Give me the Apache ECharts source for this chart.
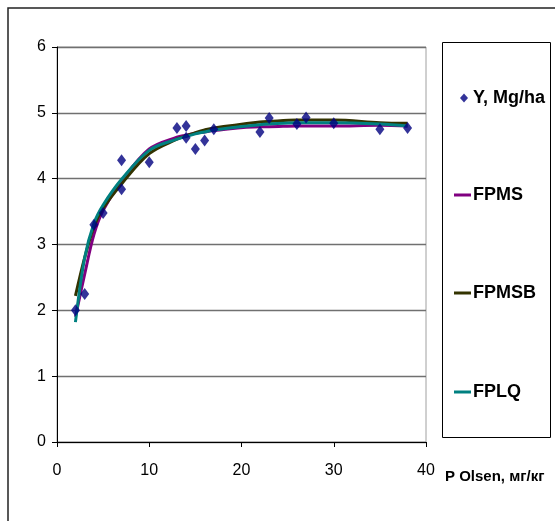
<!DOCTYPE html>
<html>
<head>
<meta charset="utf-8">
<script src="https://cdn.jsdelivr.net/npm/echarts@6/dist/echarts.min.js"></script>
<style>html,body{margin:0;padding:0;background:#fff}#c{width:555px;height:521px}</style>
</head>
<body>
<div id="c"></div>
<script>
// Observed data
var obsX = [2, 3, 4, 5, 7, 7, 10, 13, 14, 14, 15, 16, 17, 22, 23, 26, 27, 30, 35, 38];
var obsY = [2.0, 2.25, 3.30, 3.48, 4.28, 3.84, 4.25, 4.77, 4.80, 4.62, 4.45, 4.58, 4.75, 4.71, 4.92, 4.83, 4.93, 4.84, 4.75, 4.77];
// Model curves
var curveX = [2, 3, 4, 5, 7, 10, 13, 14, 15, 16, 17, 22, 23, 26, 27, 30, 35, 38];
var fpms  = [1.90, 2.55, 3.15, 3.52, 3.96, 4.45, 4.63, 4.66, 4.69, 4.71, 4.73, 4.79, 4.79, 4.80, 4.80, 4.80, 4.81, 4.80];
var fpmsb = [2.22, 2.80, 3.27, 3.55, 3.92, 4.38, 4.60, 4.65, 4.70, 4.74, 4.77, 4.86, 4.87, 4.89, 4.89, 4.89, 4.85, 4.84];
var fplq  = [1.82, 2.80, 3.32, 3.60, 3.99, 4.43, 4.60, 4.64, 4.68, 4.71, 4.74, 4.82, 4.83, 4.85, 4.85, 4.85, 4.83, 4.80];
var seriesNames = ['Y, Mg/ha', 'FPMS', 'FPMSB', 'FPLQ'];
var xTitle = 'P Olsen, мг/кг';

function pairs(xs, ys) { return xs.map(function (x, i) { return [x, ys[i]]; }); }

var chart = echarts.init(document.getElementById('c'), null, { renderer: 'canvas' });
var font = 'Arial, "Liberation Sans", sans-serif';
var legendTops = [94, 191, 289, 388];
var legends = seriesNames.map(function (n, i) {
  var isPt = i === 0;
  return {
    data: [n], left: isPt ? 455 : 449, top: legendTops[i] - 10,
    itemWidth: isPt ? 8 : 17, itemHeight: isPt ? 9 : 3,
    icon: isPt ? 'diamond' : 'rect',
    textStyle: { fontFamily: font, fontWeight: 'bold', fontSize: 18, color: '#000', padding: [0, 0, 0, isPt ? 0 : -3] },
    selectedMode: false
  };
});
chart.setOption({
  animation: false,
  backgroundColor: '#fff',
  grid: { left: 57, right: 129, top: 47, bottom: 79, show: true, borderColor: '#a0a0a0', borderWidth: 1, backgroundColor: '#fff' },
  legend: legends,
  graphic: [
    { type: 'rect', shape: { x: 8, y: 8, width: 560, height: 530 }, style: { fill: null, stroke: '#222', lineWidth: 1.5 }, silent: true },
    { type: 'rect', shape: { x: 442.5, y: 42.5, width: 108, height: 395 }, style: { fill: null, stroke: '#000', lineWidth: 1 }, silent: true }
  ],
  xAxis: {
    type: 'value', min: 0, max: 40, interval: 10,
    name: xTitle, nameLocation: 'end', nameGap: 19,
    nameTextStyle: { fontFamily: font, fontWeight: 'bold', fontSize: 15, color: '#000', align: 'left', verticalAlign: 'top', padding: [27, 0, 0, 0] },
    axisLine: { lineStyle: { color: '#000', width: 1 } },
    axisTick: { show: true, inside: false, length: 5, lineStyle: { color: '#000' } },
    axisLabel: { fontFamily: font, fontSize: 16, color: '#000', margin: 21 },
    splitLine: { show: false }
  },
  yAxis: {
    type: 'value', min: 0, max: 6, interval: 1,
    axisLine: { show: true, lineStyle: { color: '#000', width: 1 } },
    axisTick: { show: true, inside: false, length: 5, lineStyle: { color: '#000' } },
    axisLabel: { fontFamily: font, fontSize: 16, color: '#000', margin: 11 },
    splitLine: { show: true, lineStyle: { color: '#707070', width: 1.3 } }
  },
  series: [
    { name: seriesNames[0], type: 'scatter', data: pairs(obsX, obsY), symbol: 'diamond', symbolSize: [9, 12], itemStyle: { color: '#000080' }, z: 10 },
    { name: seriesNames[1], type: 'line', data: pairs(curveX, fpms), smooth: 0.35, symbol: 'none', lineStyle: { color: '#800080', width: 3 }, itemStyle: { color: '#800080' }, z: 3 },
    { name: seriesNames[2], type: 'line', data: pairs(curveX, fpmsb), smooth: 0.35, symbol: 'none', lineStyle: { color: '#333300', width: 3 }, itemStyle: { color: '#333300' }, z: 4 },
    { name: seriesNames[3], type: 'line', data: pairs(curveX, fplq), smooth: 0.35, symbol: 'none', lineStyle: { color: '#008080', width: 3 }, itemStyle: { color: '#008080' }, z: 5 }
  ]
});
</script>
</body>
</html>
